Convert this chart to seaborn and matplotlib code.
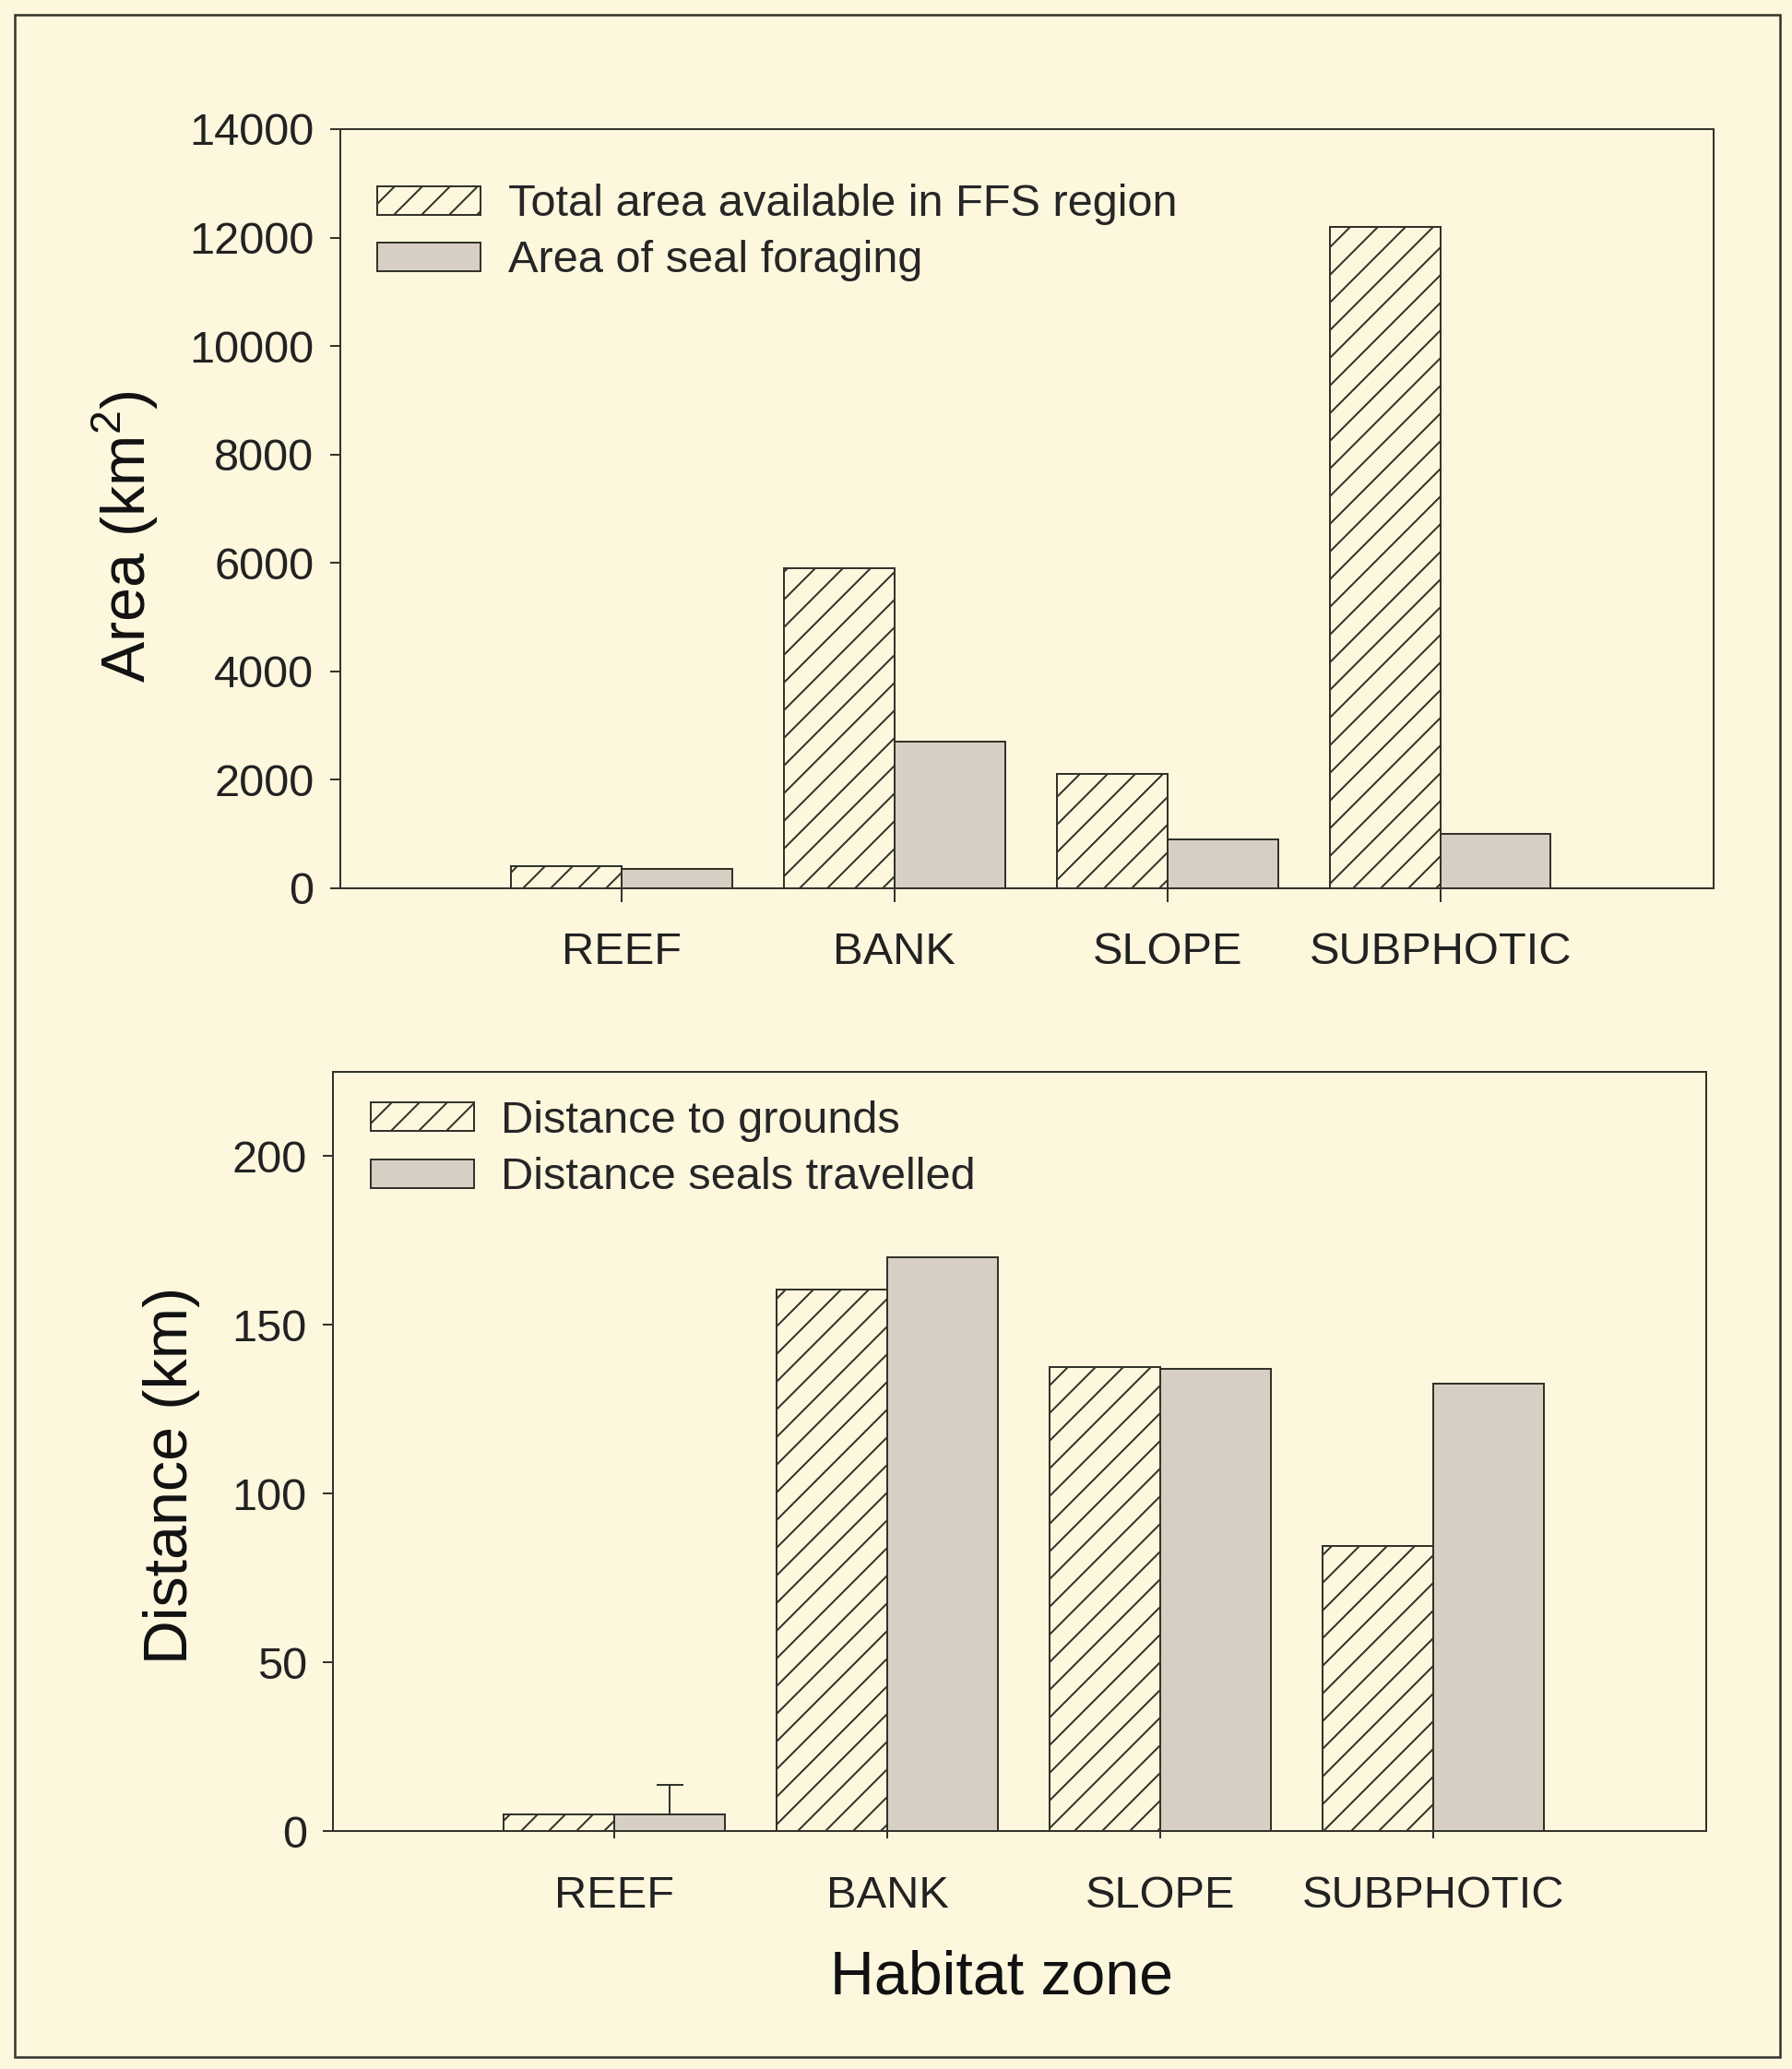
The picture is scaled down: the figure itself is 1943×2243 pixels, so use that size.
import numpy as np
import pandas as pd
import seaborn as sns
import matplotlib.pyplot as plt
from matplotlib.patches import Rectangle

sns.set_theme(style="white")
plt.rcParams["font.family"] = ["Liberation Sans", "DejaVu Sans"]
plt.rcParams["mathtext.fontset"] = "custom"
plt.rcParams["mathtext.rm"] = "Liberation Sans"
plt.rcParams["hatch.linewidth"] = 0.8

# data
zones = ["REEF", "BANK", "SLOPE", "SUBPHOTIC"]
area_total = [400, 5900, 2100, 12200]
area_seal = [350, 2700, 900, 1000]
dist_grounds = [5, 160.5, 137.5, 84.5]
dist_seals = [5, 170, 137, 132.5]
reef_seal_err = 8.7

area_labels = ["Total area available in FFS region", "Area of seal foraging"]
dist_labels = ["Distance to grounds", "Distance seals travelled"]

bg = "#FDF7DE"
gray = "#DAD0C0"
ink = "#33332b"

df_area = pd.DataFrame({
    "zone": zones * 2,
    "value": area_total + area_seal,
    "series": [area_labels[0]] * 4 + [area_labels[1]] * 4,
})
df_dist = pd.DataFrame({
    "zone": zones * 2,
    "value": dist_grounds + dist_seals,
    "series": [dist_labels[0]] * 4 + [dist_labels[1]] * 4,
})

dpi = 180
fig = plt.figure(figsize=(1943 / dpi, 2243 / dpi), dpi=dpi, facecolor=bg)
ax1 = fig.add_axes([0.190, 0.5707, 0.766, 0.3669])
ax2 = fig.add_axes([0.186, 0.115, 0.766, 0.367])

# outer frame of the figure
fig.patches.append(Rectangle((16 / 1943, 1 - 2230 / 2243), 1914 / 1943, 2214 / 2243,
                             transform=fig.transFigure, fill=False,
                             edgecolor=ink, linewidth=1.0))


def draw(ax, df, labels, ylim, yticks, ylabel, legend_y, tickdir, xpad):
    ax.set_facecolor(bg)
    sns.barplot(data=df, x="zone", y="value", hue="series", order=zones,
                hue_order=labels, palette=[bg, gray], width=0.81,
                edgecolor=ink, linewidth=0.8, legend=False, ax=ax)
    for bar in ax.containers[0]:
        bar.set_hatch("//")
        bar.set_facecolor("none")
    ax.set_xlim(-1.03, 4.0)
    ax.set_ylim(*ylim)
    ax.set_yticks(yticks)
    ax.set_xlabel("")
    ax.set_ylabel(ylabel, fontsize=26.5, color="#111")
    for s in ax.spines.values():
        s.set_visible(True)
        s.set_color(ink)
        s.set_linewidth(0.8)
    ax.tick_params(axis="y", direction="out", length=4.5, width=0.8, pad=7,
                   labelsize=19.5, color=ink, left=True, labelcolor="#222")
    ax.tick_params(axis="x", direction=tickdir, length=6, width=0.8, pad=xpad,
                   labelsize=19.5, color=ink, bottom=True, labelcolor="#222")
    ax.legend(handles=list(ax.containers), labels=labels, loc="upper left",
              bbox_to_anchor=(0.027, legend_y), frameon=False, fontsize=19.5,
              handlelength=2.3, handleheight=0.6, handletextpad=0.6,
              labelspacing=0.33, borderpad=0, borderaxespad=0)


draw(ax1, df_area, area_labels, (0, 14000), np.arange(0, 14001, 2000),
     "Area (km$^2$)", 0.928, "out", 13)
draw(ax2, df_dist, dist_labels, (0, 225), np.arange(0, 201, 50),
     "Distance (km)", 0.962, "inout", 16)
ax1.yaxis.set_label_coords(-0.131, 0.464)
ax2.yaxis.set_label_coords(-0.097, 0.468)

reef_bar = ax2.containers[1][0]
ax2.errorbar(reef_bar.get_x() + reef_bar.get_width() / 2, dist_seals[0],
             yerr=[[0], [reef_seal_err]], fmt="none", ecolor=ink,
             elinewidth=0.8, capsize=5.8, capthick=0.8)

ax2.set_xlabel("Habitat zone", fontsize=26.5, color="#111")
ax2.xaxis.set_label_coords(0.487, -0.156)

fig.savefig("out.png", dpi=dpi, facecolor=bg)
